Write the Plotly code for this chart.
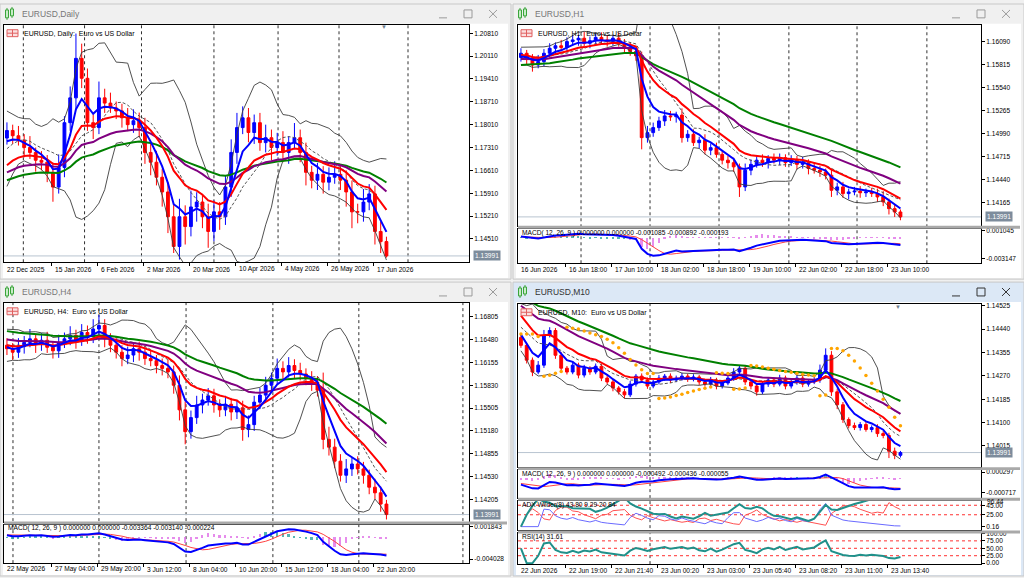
import numpy as np
import pandas as pd
import plotly.graph_objects as go

W, H = 1024, 578
FONT = "Liberation Sans"
PIP = 0.0001
BAR = 2.875          # terminal pixels per bar, each candle below covers 2 bars
LAST = 1.13991

# ------------------------------------------------------------------ Daily
daily_close = [1.1783, 1.1767, 1.1752, 1.1731, 1.1716, 1.1692, 1.1686, 1.1655, 1.1610, 1.1670,
               1.1807, 1.1883, 1.2004, 1.1943, 1.1807, 1.1792, 1.1883, 1.1867, 1.1852, 1.1843,
               1.1822, 1.1801, 1.1813, 1.1792, 1.1716, 1.1686, 1.1640, 1.1595, 1.1519, 1.1428,
               1.1519, 1.1489, 1.1549, 1.1564, 1.1519, 1.1474, 1.1534, 1.1519, 1.1610, 1.1716,
               1.1792, 1.1822, 1.1777, 1.1807, 1.1746, 1.1761, 1.1731, 1.1746, 1.1716, 1.1746,
               1.1761, 1.1716, 1.1655, 1.1631, 1.1649, 1.1625, 1.1640, 1.1649, 1.1631, 1.1595,
               1.1534, 1.1534, 1.1564, 1.1589, 1.1474, 1.1443, 1.13991]
daily_wick_up = [25, 18, 30, 20, 35, 15, 28, 22, 30, 40, 20, 35, 76, 45, 30, 25, 50, 28, 32, 20,
                 22, 30, 35, 25, 30, 28, 35, 25, 30, 40, 55, 35, 50, 30, 25, 40, 35, 30, 35, 40,
                 45, 35, 30, 25, 30, 40, 25, 30, 35, 20, 45, 25, 30, 20, 35, 25, 30, 40, 25, 30,
                 35, 25, 40, 30, 25, 30, 15]
daily_wick_dn = [20, 25, 15, 30, 20, 35, 25, 30, 45, 20, 30, 25, 35, 30, 25, 35, 20, 30, 15, 25,
                 30, 20, 25, 30, 35, 40, 25, 45, 50, 20, 40, 55, 30, 45, 35, 50, 30, 40, 25, 30,
                 35, 20, 30, 35, 25, 30, 40, 25, 30, 35, 20, 30, 40, 25, 30, 35, 25, 20, 30, 45,
                 50, 35, 30, 25, 40, 35, 5]
daily_before = [1.1620, 1.1655, 1.1700, 1.1760, 1.1810, 1.1775, 1.1720, 1.1690, 1.1760]
daily_ma_start = {"blue": 1.1750, "red": 1.1677, "purple": 1.1655, "green": 1.1631}
daily_ticks = [1.20810, 1.20110, 1.19410, 1.18710, 1.18010, 1.17310, 1.16610, 1.15910, 1.15210, 1.14510]
daily_dates = ["22 Dec 2025", "15 Jan 2026", "6 Feb 2026", "2 Mar 2026", "20 Mar 2026",
               "10 Apr 2026", "4 May 2026", "26 May 2026", "17 Jun 2026"]
daily_seps = [6.2, 27.5, 47.3, 72.5, 94.8, 116.0, 140.0]

# ------------------------------------------------------------------ H1
h1_close = [1.1595, 1.1589, 1.1581, 1.1585, 1.1595, 1.1601, 1.1604, 1.1602, 1.1609, 1.1611,
            1.1613, 1.1607, 1.1610, 1.1614, 1.1611, 1.1609, 1.1613, 1.1607, 1.1602, 1.1597,
            1.1592, 1.1494, 1.1500, 1.1506, 1.1514, 1.1520, 1.1519, 1.1521, 1.1494, 1.1498,
            1.1488, 1.1491, 1.1479, 1.1482, 1.1474, 1.1467, 1.1464, 1.1459, 1.1435, 1.1455,
            1.1462, 1.1467, 1.1464, 1.1469, 1.1467, 1.1470, 1.1464, 1.1467, 1.1462, 1.1464,
            1.1457, 1.1455, 1.1453, 1.1449, 1.1431, 1.1435, 1.1427, 1.1429, 1.1430, 1.1428,
            1.1429, 1.1427, 1.1423, 1.1417, 1.1409, 1.1405, 1.13991]
h1_wick_up = [6, 4, 5, 8, 5, 6, 4, 7, 5, 6, 4, 8, 5, 4, 6, 5, 4, 7, 5, 6,
              4, 5, 8, 6, 5, 7, 6, 4, 8, 5, 6, 4, 7, 5, 6, 4, 5, 6, 4, 8,
              6, 5, 7, 4, 6, 5, 4, 6, 5, 7, 4, 6, 5, 4, 8, 5, 6, 4, 5, 6,
              4, 5, 6, 7, 4, 5, 3]
h1_wick_dn = [5, 7, 8, 4, 6, 5, 7, 4, 6, 5, 7, 4, 6, 5, 4, 6, 5, 4, 7, 5,
              6, 14, 6, 5, 4, 6, 5, 7, 6, 5, 4, 7, 5, 6, 4, 5, 7, 6, 12, 5,
              6, 4, 5, 7, 4, 6, 5, 4, 6, 5, 7, 4, 6, 5, 8, 6, 5, 7, 4, 6,
              5, 4, 6, 5, 7, 6, 4]
h1_before = [1.1588, 1.1595, 1.1582, 1.1590, 1.1598, 1.1585, 1.1592, 1.1600, 1.1590]
h1_ma_start = {"blue": 1.1591, "red": 1.1593, "purple": 1.1588, "green": 1.1581}
h1_ticks = [1.16090, 1.15815, 1.15540, 1.15265, 1.14990, 1.14715, 1.14440, 1.14165]
h1_macd_ticks = [0.001045, -0.003147]
h1_macd_text = "MACD( 12, 26, 9 ) 0.000000 0.000000 -0.001085 -0.000892 -0.000193"
h1_dates = ["16 Jun 2026", "16 Jun 18:00", "17 Jun 10:00", "18 Jun 02:00", "18 Jun 18:00",
            "19 Jun 10:00", "22 Jun 02:00", "22 Jun 18:00", "23 Jun 10:00"]
h1_seps = [21.4, 45.4, 69.4, 93.7, 117.4, 141.7]

# ------------------------------------------------------------------ H4
h4_close = [1.1635, 1.1630, 1.1638, 1.1644, 1.1649, 1.1641, 1.1647, 1.1637, 1.1632, 1.1644,
            1.1649, 1.1654, 1.1647, 1.1658, 1.1652, 1.1663, 1.1668, 1.1649, 1.1640, 1.1630,
            1.1621, 1.1626, 1.1635, 1.1630, 1.1621, 1.1618, 1.1611, 1.1607, 1.1602, 1.1583,
            1.1548, 1.1517, 1.1537, 1.1555, 1.1562, 1.1568, 1.1555, 1.1548, 1.1556, 1.1545,
            1.1551, 1.1520, 1.1527, 1.1559, 1.1569, 1.1583, 1.1593, 1.1607, 1.1602, 1.1611,
            1.1604, 1.1599, 1.1593, 1.1587, 1.1576, 1.1506, 1.1495, 1.1475, 1.1455, 1.1464,
            1.1471, 1.1464, 1.1455, 1.1438, 1.1430, 1.1414, 1.13991]
h4_wick_up = [10, 8, 12, 9, 14, 7, 10, 12, 8, 11, 9, 13, 8, 12, 10, 14, 15, 9, 8, 11,
              10, 12, 8, 10, 9, 11, 8, 10, 12, 9, 14, 12, 10, 13, 9, 11, 10, 8, 12, 9,
              11, 10, 13, 9, 10, 12, 8, 14, 10, 12, 9, 11, 8, 10, 9, 25, 18, 12, 10, 14,
              9, 11, 10, 8, 12, 9, 6]
h4_wick_dn = [9, 11, 8, 10, 7, 12, 9, 8, 11, 10, 8, 9, 12, 8, 10, 9, 8, 12, 10, 9,
              11, 8, 10, 12, 9, 8, 11, 10, 9, 12, 15, 18, 10, 9, 12, 8, 11, 10, 9, 12,
              10, 16, 11, 9, 10, 8, 11, 9, 10, 8, 11, 9, 10, 12, 9, 14, 12, 10, 9, 11,
              10, 8, 12, 10, 9, 11, 7]
h4_before = [1.1625, 1.1640, 1.1655, 1.1648, 1.1630, 1.1622, 1.1645, 1.1658, 1.1640]
h4_ma_start = {"blue": 1.1637, "red": 1.1640, "purple": 1.1648, "green": 1.1660}
h4_ticks = [1.16805, 1.16480, 1.16155, 1.15830, 1.15505, 1.15180, 1.14855, 1.14530, 1.14205]
h4_macd_ticks = [0.001843, -0.004028]
h4_macd_text = "MACD( 12, 26, 9 ) 0.000000 0.000000 -0.003364 -0.003140 -0.000224"
h4_dates = ["22 May 2026", "27 May 04:00", "29 May 20:00", "3 Jun 12:00", "8 Jun 04:00",
            "10 Jun 20:00", "15 Jun 12:00", "18 Jun 04:00", "22 Jun 20:00"]
h4_seps = [2.6, 32.5, 62.8, 93.0, 122.9, 159.1]

# ------------------------------------------------------------------ M10
m10_close = [1.14381, 1.14327, 1.14284, 1.14309, 1.14417, 1.14435, 1.14345, 1.14298, 1.14284, 1.14309,
             1.14273, 1.14298, 1.14284, 1.14305, 1.14262, 1.14248, 1.14226, 1.14212, 1.14201, 1.14240,
             1.14269, 1.14255, 1.14233, 1.14248, 1.14262, 1.14269, 1.14255, 1.14262, 1.14269, 1.14258,
             1.14266, 1.14248, 1.14240, 1.14255, 1.14233, 1.14244, 1.14262, 1.14284, 1.14298, 1.14248,
             1.14233, 1.14212, 1.14240, 1.14255, 1.14240, 1.14262, 1.14233, 1.14248, 1.14262, 1.14240,
             1.14248, 1.14255, 1.14291, 1.14345, 1.14212, 1.14165, 1.14111, 1.14089, 1.14082, 1.14093,
             1.14075, 1.14082, 1.14060, 1.14053, 1.13996, 1.13981, 1.13991]
m10_wick_up = [1.2, 0.8, 1.0, 1.5, 2.0, 1.2, 0.9, 1.1, 0.8, 1.3, 0.9, 1.2, 0.7, 1.0, 0.8, 1.1, 0.9, 0.7, 1.0, 1.2,
               0.8, 1.0, 0.9, 0.7, 1.1, 0.8, 1.0, 0.9, 1.2, 0.8, 1.0, 0.7, 0.9, 1.1, 0.8, 1.0, 1.2, 1.4, 1.0, 0.8,
               0.9, 0.7, 1.1, 1.0, 0.8, 1.2, 0.9, 1.0, 1.1, 0.8, 0.9, 1.2, 2.0, 2.5, 1.5, 1.2, 1.0, 0.8, 1.1, 0.9,
               1.0, 0.8, 1.2, 0.9, 1.0, 1.3, 0.6]
m10_wick_dn = [0.9, 1.2, 1.5, 0.8, 1.0, 0.7, 1.3, 1.1, 0.9, 0.8, 1.2, 0.9, 1.0, 0.8, 1.1, 0.9, 1.2, 1.0, 1.3, 0.8,
               0.9, 1.1, 1.0, 0.8, 0.9, 1.0, 1.1, 0.8, 0.9, 1.0, 0.8, 1.1, 0.9, 1.0, 1.2, 0.9, 0.8, 1.0, 0.9, 1.1,
               1.2, 1.4, 0.9, 1.0, 1.1, 0.8, 1.2, 0.9, 1.0, 1.1, 0.9, 0.8, 1.0, 0.9, 1.5, 1.6, 1.2, 1.0, 0.9, 1.1,
               0.8, 1.0, 1.2, 1.0, 2.5, 1.4, 0.8]
m10_before = [1.14520, 1.14480, 1.14500, 1.14450, 1.14470, 1.14420, 1.14440, 1.14400, 1.14410]
m10_ma_start = {"blue": 1.14420, "red": 1.14489, "purple": 1.14525, "green": 1.14560}
m10_ticks = [1.14525, 1.14440, 1.14355, 1.14270, 1.14185, 1.14100, 1.14015]
m10_macd_ticks = [0.000297, -0.000717]
m10_macd_text = "MACD( 12, 26, 9 ) 0.000000 0.000000 -0.000492 -0.000436 -0.000055"
m10_adx_text = "ADX Wilder(8) 43.80 9.29 20.84"
m10_rsi_text = "RSI(14) 31.61"
m10_dates = ["22 Jun 2026", "22 Jun 19:00", "22 Jun 21:40", "23 Jun 00:20", "23 Jun 03:00",
             "23 Jun 05:40", "23 Jun 08:20", "23 Jun 11:00", "23 Jun 13:40"]
m10_seps = [45.4]

for arr in (daily_close, daily_wick_up, daily_wick_dn, h1_close, h1_wick_up, h1_wick_dn,
            h4_close, h4_wick_up, h4_wick_dn, m10_close, m10_wick_up, m10_wick_dn):
    assert len(arr) == 67, len(arr)

# ------------------------------------------------------------------ helpers
fig = go.Figure()
layout = {}
shapes, annos = [], []
n_ax = [0]


def px_x(p):
    return p / W


def px_y(p):
    return 1 - p / H


def xr(left, right):
    r0 = -1.5 / BAR
    return [r0, r0 + (right - left) / BAR]


def rect(x0, y0, x1, y1, fill, line=None, layer="below"):
    shapes.append(dict(type="rect", xref="paper", yref="paper", x0=px_x(x0), x1=px_x(x1),
                       y0=px_y(y1), y1=px_y(y0), fillcolor=fill, layer=layer,
                       line=dict(color=line or fill, width=1 if line else 0)))


def seg(x0, y0, x1, y1, color, width=1, layer="above"):
    shapes.append(dict(type="line", xref="paper", yref="paper", x0=px_x(x0), x1=px_x(x1),
                       y0=px_y(y0), y1=px_y(y1), layer=layer, line=dict(color=color, width=width)))


def text(x, y, s, size=6.6, color="black", anchor="left", **kw):
    annos.append(dict(x=px_x(x), y=px_y(y), xref="paper", yref="paper", text=s, showarrow=False,
                      xanchor=anchor, yanchor="middle", font=dict(family=FONT, size=size, color=color), **kw))


def new_axes(left, right, top, bottom, yrange, tickvals, ticktext, xticks=None):
    n_ax[0] += 1
    sx = "" if n_ax[0] == 1 else str(n_ax[0])
    layout["xaxis" + sx] = dict(domain=[px_x(left), px_x(right)], range=xr(left, right), anchor="y" + sx,
                                showgrid=False, zeroline=False, showline=True, mirror=True,
                                linecolor="black", linewidth=1, showticklabels=False,
                                ticks="outside" if xticks else "", tickvals=xticks or [], ticklen=3,
                                tickcolor="black", rangeslider=dict(visible=False), fixedrange=True)
    layout["yaxis" + sx] = dict(domain=[px_y(bottom), px_y(top)], range=yrange, anchor="x" + sx,
                                side="right", showgrid=False, zeroline=False, showline=True, mirror=True,
                                linecolor="black", linewidth=1, tickvals=tickvals, ticktext=ticktext,
                                ticks="outside", ticklen=3, tickcolor="black",
                                tickfont=dict(family=FONT, size=6.6, color="black"), fixedrange=True)
    return "x" + sx, "y" + sx


def line(xs, ys, color, width, xa, ya, dash=None):
    fig.add_trace(go.Scatter(x=xs, y=ys, mode="lines", xaxis=xa, yaxis=ya, hoverinfo="skip",
                             line=dict(color=color, width=width, dash=dash)))


def ema(vals, n, seed):
    a = 2.0 / (n + 1)
    out = [seed]
    for v in vals[1:]:
        out.append(out[-1] + a * (v - out[-1]))
    return np.array(out)


def price_panel(xa, ya, close, wu, wd, before, start):
    c = np.array(close, float)
    o = np.r_[before[-1], c[:-1]]
    h = np.maximum(o, c) + np.array(wu) * PIP
    l = np.minimum(o, c) - np.array(wd) * PIP
    xs = 2 * np.arange(len(c)) + 0.5
    s = pd.Series(list(before) + list(c))
    k = len(before)
    mid = s.rolling(10, min_periods=1).mean().values[k:]
    sd = s.rolling(10, min_periods=1).std(ddof=0).values[k:]
    line(xs, mid + 2 * sd, "#3c3c3c", 0.9, xa, ya)
    line(xs, mid - 2 * sd, "#3c3c3c", 0.9, xa, ya)
    fig.add_trace(go.Candlestick(x=xs, open=o, high=h, low=l, close=c, xaxis=xa, yaxis=ya,
                                 whiskerwidth=0, hoverinfo="skip",
                                 increasing=dict(line=dict(color="#0000ff", width=1), fillcolor="#0000ff"),
                                 decreasing=dict(line=dict(color="#ff0000", width=1), fillcolor="#ff0000")))
    line(xs, mid, "#555555", 1, xa, ya, dash="3px,2px")
    for name, n, col in (("green", 40, "#008000"), ("purple", 25, "#800080"),
                         ("red", 12, "#ff0000"), ("blue", 5, "#0000ff")):
        line(xs, ema(c, n, start[name]), col, 2, xa, ya)
    return xs, o, h, l, c


def macd_panel(xa, ya, xs, c, before):
    s = pd.Series(list(before) + list(c))
    m = s.ewm(span=6, adjust=False).mean() - s.ewm(span=13, adjust=False).mean()
    sig = m.rolling(5, min_periods=1).mean()
    m, sig = m.values[len(before):], sig.values[len(before):]
    colors = ["#2aa5a0" if v > 0 else "#e070e8" for v in m]
    fig.add_trace(go.Bar(x=xs, y=m - sig, width=0.6, marker=dict(color=colors, line=dict(width=0)),
                         opacity=0.8, xaxis=xa, yaxis=ya, hoverinfo="skip"))
    line(xs, sig, "#ff4040", 1, xa, ya)
    line(xs, m, "#0000ff", 2, xa, ya)


def frame(x0, y0, x1, y1, title, active):
    bar = "#dce8f6" if active else "#f0f0f0"
    rect(x0, y0, x1, y1, bar, "#c8c8c8")
    rect(x0 + 3, y0 + 20, x1 - 3, y1 - 1, "white")
    # window icon
    for cx, t, b in ((x0 + 7, y0 + 6, y0 + 14), (x0 + 12, y0 + 5, y0 + 12)):
        seg(cx, t - 2, cx, b + 2, "#3aa53a")
        rect(cx - 1.5, t, cx + 1.5, b, "#c8ecc8", "#3aa53a", layer="above")
    text(x0 + 20, y0 + 10, title, size=8.5, color="#333333" if active else "#777777")
    bc = "#333333" if active else "#9a9a9a"
    cy = y0 + 10
    seg(x1 - 72, cy + 4, x1 - 64, cy + 4, bc)
    rect(x1 - 47, cy - 4, x1 - 39, cy + 4, "rgba(0,0,0,0)", bc, layer="above")
    seg(x1 - 22, cy - 4, x1 - 14, cy + 4, bc)
    seg(x1 - 22, cy + 4, x1 - 14, cy - 4, bc)


def header(left, top, s):
    rect(left + 3, top + 5, left + 14, top + 12, "#fbe0e0", "#e06060", layer="above")
    seg(left + 3, top + 8.5, left + 14, top + 8.5, "#e06060")
    seg(left + 8.5, top + 5, left + 8.5, top + 12, "#e06060")
    text(left + 18, top + 9, s, size=7)


def last_price(left, right, ya):
    shapes.append(dict(type="line", xref="paper", yref=ya, x0=px_x(left), x1=px_x(right), y0=LAST, y1=LAST,
                       layer="below", line=dict(color="#b8c4d0", width=1)))
    annos.append(dict(x=px_x(right + 4), y=LAST, xref="paper", yref=ya, text=f"{LAST:.5f}", showarrow=False,
                      xanchor="left", yanchor="middle", bgcolor="#7d8c9c", borderpad=1,
                      font=dict(family=FONT, size=6.6, color="white")))


def dates(xa, labels, y):
    for j, s in enumerate(labels):
        annos.append(dict(x=16 * j - (0.5 if j == 0 else 0), y=px_y(y), xref=xa, yref="paper", text=s,
                          showarrow=False, xanchor="left", yanchor="middle", xshift=1,
                          font=dict(family=FONT, size=6.6, color="black")))


def separators(xa, seps, top, bottom):
    for b in seps:
        shapes.append(dict(type="line", xref=xa, yref="paper", x0=b, x1=b, y0=px_y(bottom), y1=px_y(top),
                           layer="below", line=dict(color="#303030", width=1, dash="dot")))


def sub_gap(left, x1, y0, y1):
    rect(left, y0, x1, y1, "#a9a9a9", layer="above")


def shift_mark(x, y):
    text(x, y, "▼", size=6, color="#6f7f8f", anchor="center")


def fmt5(vals):
    return [f"{v:.5f}" for v in vals]


XT = [16 * j for j in range(1, 9)]

# ------------------------------------------------------------------ top left: Daily
frame(0, 0, 511, 278, "EURUSD,Daily", False)
separators("x", daily_seps, 21, 261)
xa, ya = new_axes(4, 469, 21, 261, [1.13796, 1.21068], daily_ticks, fmt5(daily_ticks), xticks=XT)
price_panel(xa, ya, daily_close, daily_wick_up, daily_wick_dn, daily_before, daily_ma_start)
header(4, 21, "EURUSD, Daily:  Euro vs US Dollar")
last_price(4, 469, ya)
dates(xa, daily_dates, 268)
shift_mark(384, 23)

# ------------------------------------------------------------------ top right: H1
frame(513, 0, 1024, 278, "EURUSD,H1", False)
separators("x2", h1_seps, 21, 262)
xa, ya = new_axes(518, 981, 21, 224, [1.13886, 1.16291], h1_ticks, fmt5(h1_ticks))
xs, o, h, l, c = price_panel(xa, ya, h1_close, h1_wick_up, h1_wick_dn, h1_before, h1_ma_start)
header(518, 21, "EURUSD, H1:  Euro vs US Dollar")
last_price(518, 981, ya)
xm, ym = new_axes(518, 981, 227, 262, [-0.003896, 0.001344], h1_macd_ticks,
                  [f"{v:.6f}" for v in h1_macd_ticks], xticks=XT)
macd_panel(xm, ym, xs, c, h1_before)
text(520, 231, h1_macd_text)
sub_gap(518, 1020, 224, 227)
dates(xm, h1_dates, 268)

# ------------------------------------------------------------------ bottom left: H4
frame(0, 281, 511, 578, "EURUSD,H4", False)
separators("x4", h4_seps, 302, 565)
xa, ya = new_axes(4, 469, 302, 523, [1.13891, 1.17002], h4_ticks, fmt5(h4_ticks))
xs, o, h, l, c = price_panel(xa, ya, h4_close, h4_wick_up, h4_wick_dn, h4_before, h4_ma_start)
header(4, 302, "EURUSD, H4:  Euro vs US Dollar")
last_price(4, 469, ya)
xm, ym = new_axes(4, 469, 526, 565, [-0.004740, 0.002199], h4_macd_ticks,
                  [f"{v:.6f}" for v in h4_macd_ticks], xticks=XT)
macd_panel(xm, ym, xs, c, h4_before)
text(6, 530, h4_macd_text)
sub_gap(4, 507, 523, 526)
dates(xm, h4_dates, 571)

# ------------------------------------------------------------------ bottom right: M10 (active)
frame(513, 281, 1024, 578, "EURUSD,M10", True)
separators("x6", m10_seps, 303, 566)
xa, ya = new_axes(518, 981, 303, 468, [1.13938, 1.14532], m10_ticks, fmt5(m10_ticks))
xs, o, h, l, c = price_panel(xa, ya, m10_close, m10_wick_up, m10_wick_dn, m10_before, m10_ma_start)

# parabolic SAR
sar = np.zeros(len(c))
up, ep, s_, af = False, l[0], h[0], 0.02
sar[0] = s_
for i in range(1, len(c)):
    s_ = s_ + af * (ep - s_)
    if up:
        s_ = min(s_, l[i - 1], l[max(i - 2, 0)])
        if l[i] < s_:
            up, s_, ep, af = False, ep, l[i], 0.02
        elif h[i] > ep:
            ep, af = h[i], min(af + 0.02, 0.2)
    else:
        s_ = max(s_, h[i - 1], h[max(i - 2, 0)])
        if h[i] > s_:
            up, s_, ep, af = True, ep, h[i], 0.02
        elif l[i] < ep:
            ep, af = l[i], min(af + 0.02, 0.2)
    sar[i] = s_
fig.add_trace(go.Scatter(x=xs, y=sar, mode="markers", xaxis=xa, yaxis=ya, hoverinfo="skip",
                         marker=dict(color="#ffa500", size=3.5)))
header(518, 303, "EURUSD, M10:  Euro vs US Dollar")
last_price(518, 981, ya)
shift_mark(898, 306)

xm, ym = new_axes(518, 981, 471, 499, [-0.000958, 0.000394], m10_macd_ticks,
                  [f"{v:.6f}" for v in m10_macd_ticks])
macd_panel(xm, ym, xs, c, m10_before)
text(520, 475, m10_macd_text)

# ADX Wilder
hs, ls, cs = pd.Series(h), pd.Series(l), pd.Series(c)
upm, dnm = hs.diff(), -ls.diff()
pdm = pd.Series(np.where((upm > dnm) & (upm > 0), upm, 0.0))
mdm = pd.Series(np.where((dnm > upm) & (dnm > 0), dnm, 0.0))
tr = pd.concat([hs - ls, (hs - cs.shift()).abs(), (ls - cs.shift()).abs()], axis=1).max(axis=1)
atr = tr.ewm(alpha=0.25, adjust=False).mean()
pdi = 100 * pdm.ewm(alpha=0.25, adjust=False).mean() / atr
mdi = 100 * mdm.ewm(alpha=0.25, adjust=False).mean() / atr
dx = (100 * (pdi - mdi).abs() / (pdi + mdi).replace(0, np.nan)).fillna(0)
adx = dx.ewm(alpha=0.25, adjust=False).mean()
xd, yd = new_axes(518, 981, 502, 532, [-8.1, 54.4], [45, 25, 0.16], ["45.00", "25.00", "0.16"])
for lv in (45, 25):
    shapes.append(dict(type="line", xref="paper", yref=yd, x0=px_x(518), x1=px_x(981), y0=lv, y1=lv,
                       layer="below", line=dict(color="#ff3030", width=1, dash="dot")))
line(xs, mdi.values, "#ff5050", 1, xd, yd)
line(xs, pdi.values, "#6a6aff", 1, xd, yd)
line(xs, adx.values, "#20908a", 2, xd, yd)
text(520, 506, m10_adx_text)
text(985, 503, "96.44")

# RSI
d = cs.diff().fillna(0)
g = d.clip(lower=0).ewm(alpha=1 / 7, adjust=False).mean()
ls_ = (-d).clip(lower=0).ewm(alpha=1 / 7, adjust=False).mean()
rsi = (100 - 100 / (1 + g / ls_.replace(0, np.nan))).fillna(50)
xq, yq = new_axes(518, 981, 535, 566, [-3.3, 100], [100, 75, 50, 25, 0],
                  ["100.00", "75.00", "50.00", "25.00", "0.00"], xticks=XT)
for lv in (75, 50, 25):
    shapes.append(dict(type="line", xref="paper", yref=yq, x0=px_x(518), x1=px_x(981), y0=lv, y1=lv,
                       layer="below", line=dict(color="#ff3030", width=1, dash="dot")))
line(xs, rsi.values, "#20908a", 2, xq, yq)
text(520, 539, m10_rsi_text)

sub_gap(518, 1020, 468, 471)
sub_gap(518, 1020, 499, 502)
sub_gap(518, 1020, 532, 535)
dates(xq, m10_dates, 572)

layout.update(width=W, height=H, margin=dict(l=0, r=0, t=0, b=0), paper_bgcolor="#f0f0f0",
              plot_bgcolor="rgba(0,0,0,0)", showlegend=False, shapes=shapes, annotations=annos,
              font=dict(family=FONT, size=6.6, color="black"), bargap=0)
fig.update_layout(**layout)
fig.write_html("out.html", config={"displayModeBar": False},
               post_script="document.body.style.margin='0';document.body.style.overflow='hidden';")
